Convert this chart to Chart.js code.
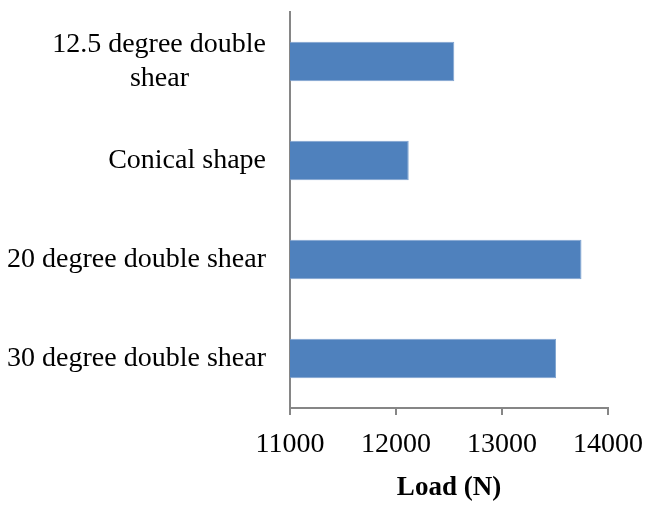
<!DOCTYPE html>
<html>
<head>
<meta charset="utf-8">
<script src="https://cdn.jsdelivr.net/npm/chart.js@4/dist/chart.umd.min.js"></script>
<style>
html,body{margin:0;padding:0;background:#fff;}
#wrap{width:646px;height:507px;position:relative;}
</style>
</head>
<body>
<div id="wrap"><canvas id="c" width="646" height="507"></canvas></div>
<script>
const categories = [["12.5 degree double", "shear"], "Conical shape", "20 degree double shear", "30 degree double shear"];
const loadValues = [12550, 12120, 13750, 13510];
const xTicks = [11000, 12000, 13000, 14000];
const xTitle = "Load (N)";

const FONT = "'Liberation Serif', 'Times New Roman', serif";
const FS = 28;
const measureCtx = document.createElement('canvas').getContext('2d');
measureCtx.font = FS + "px " + FONT;
function centerLines(label) {
  if (!Array.isArray(label)) return label;
  const widths = label.map(l => measureCtx.measureText(l).width);
  const maxW = Math.max(...widths);
  const sp = measureCtx.measureText('\u00A0').width;
  return label.map((l, i) => l + '\u00A0'.repeat(Math.round((maxW - widths[i]) / 2 / sp)));
}

new Chart(document.getElementById('c'), {
  type: 'bar',
  data: {
    labels: categories,
    datasets: [{
      data: loadValues,
      backgroundColor: '#4F81BD',
      borderColor: '#7FA3D0',
      borderWidth: 1,
      categoryPercentage: 1,
      barPercentage: 0.4
    }]
  },
  options: {
    indexAxis: 'y',
    responsive: false,
    animation: false,
    layout: { padding: { left: 0, top: 12, right: 38, bottom: 0 }, autoPadding: false },
    plugins: { legend: { display: false }, tooltip: { enabled: false } },
    scales: {
      x: {
        min: 11000, max: 14000,
        afterBuildTicks: s => { s.ticks = xTicks.map(v => ({ value: v })); },
        afterFit: s => { s.height = 99; s.paddingLeft = 0; s.paddingRight = 0; },
        grid: { drawOnChartArea: false, drawTicks: true, tickLength: 7, color: '#868686', lineWidth: 2 },
        border: { display: true, color: '#868686', width: 2 },
        ticks: { color: '#000', font: { family: FONT, size: FS }, padding: 13, callback: v => String(v) },
        title: { display: true, text: xTitle, color: '#000', font: { family: FONT, size: 27, weight: 'bold' }, padding: { top: 4, bottom: 3 } }
      },
      y: {
        afterFit: s => { s.width = 290; s.paddingTop = 0; s.paddingBottom = 0; },
        grid: { display: false },
        border: { display: true, color: '#868686', width: 2 },
        ticks: {
          color: '#000', font: { family: FONT, size: FS }, padding: 16,
          callback: function (v) { return centerLines(this.getLabelForValue(v)); }
        }
      }
    }
  }
});
</script>
</body>
</html>
